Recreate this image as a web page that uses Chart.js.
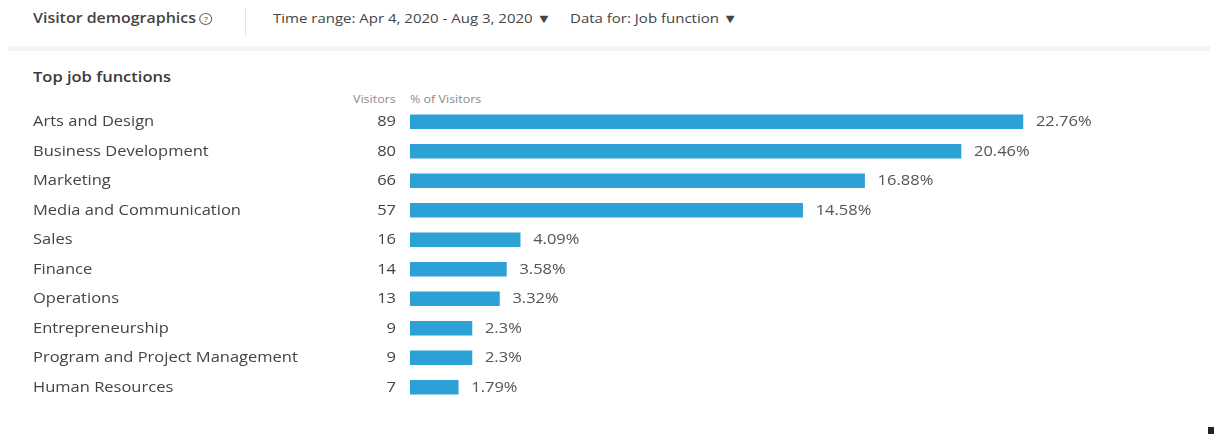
<!DOCTYPE html>
<html>
<head>
<meta charset="utf-8">
<script src="https://cdn.jsdelivr.net/npm/chart.js@4.4.0/dist/chart.umd.min.js"></script>
<style>
  html, body { margin: 0; padding: 0; background: #fff; width: 1216px; height: 436px; overflow: hidden; }
  body { position: relative; font-family: "Open Sans", sans-serif; color: #3c3c3c; }
  .abs { position: absolute; white-space: nowrap; transform-origin: left center; }
  #title { left: 33px; top: 8px; font-size: 14.5px; font-weight: 600; color: #444; transform: scaleX(1.1); }
  #title .q { display: inline-block; width: 10px; height: 10px; border: 1px solid #666; border-radius: 50%;
              font-size: 8px; line-height: 10px; text-align: center; font-weight: 400; vertical-align: 1px; margin-left: 3px; }
  #sep { left: 245px; top: 8px; width: 1px; height: 28px; background: #e4e4e4; }
  #range { left: 273px; top: 10px; font-size: 12.5px; color: #444; transform: scaleX(1.2); }
  #datafor { left: 570px; top: 10px; font-size: 12.5px; color: #444; transform: scaleX(1.2); }
  #band { left: 8px; top: 46px; width: 1202px; height: 5px; background: #f4f4f4; }
  #sub { left: 33px; top: 66px; font-size: 15px; font-weight: 600; color: #3a3a3a; transform: scaleX(1.1); }
  #hVis { left: 353px; top: 92px; font-size: 10px; color: #8a8a8a; transform: scaleX(1.25); }
  #hPct { left: 410px; top: 92px; font-size: 10px; color: #8a8a8a; transform: scaleX(1.25); }
  #dot { left: 1208px; top: 427px; width: 6px; height: 7px; background: #222; }
  #wrap { position: absolute; left: 0; top: 107px; width: 1216px; height: 295px; }
</style>
</head>
<body>
<div class="abs" id="title">Visitor demographics<span class="q">?</span></div>
<div class="abs" id="sep"></div>
<div class="abs" id="range">Time range: Apr 4, 2020 - Aug 3, 2020 &#9660;</div>
<div class="abs" id="datafor">Data for: Job function &#9660;</div>
<div class="abs" id="band"></div>
<div class="abs" id="sub">Top job functions</div>
<div class="abs" id="hVis">Visitors</div>
<div class="abs" id="hPct">% of Visitors</div>
<div class="abs" id="dot"></div>
<div id="wrap"><canvas id="chart"></canvas></div>
<script>
// Data
const jobFunctions = [
    'Arts and Design', 'Business Development', 'Marketing', 'Media and Communication',
    'Sales', 'Finance', 'Operations', 'Entrepreneurship',
    'Program and Project Management', 'Human Resources'
];
const visitors = [89, 80, 66, 57, 16, 14, 13, 9, 9, 7];
const percentVisitors = [22.76, 20.46, 16.88, 14.58, 4.09, 3.58, 3.32, 2.3, 2.3, 1.79];

// text in the screenshot is a bit stretched horizontally
function stretchedText(ctx, text, x, y, align) {
    ctx.save();
    ctx.translate(x, y);
    ctx.scale(1.1, 1);
    ctx.textAlign = align;
    ctx.fillText(text, 0, 0);
    ctx.restore();
}

// Draw the row labels, visitor counts and percentages next to the bars
const rowLabels = {
    id: 'rowLabels',
    afterDatasetsDraw(chart) {
        const ctx = chart.ctx;
        const meta = chart.getDatasetMeta(0);
        ctx.save();
        ctx.textBaseline = 'middle';
        ctx.font = '15px "Open Sans", sans-serif';
        meta.data.forEach((bar, i) => {
            const y = bar.y;
            ctx.fillStyle = '#444';
            stretchedText(ctx, jobFunctions[i], 33, y, 'left');
            stretchedText(ctx, String(visitors[i]), 396, y, 'right');
            ctx.fillStyle = '#555';
            stretchedText(ctx, percentVisitors[i] + '%', bar.x + 13, y, 'left');
        });
        ctx.restore();
    }
};

const ctx = document.getElementById('chart').getContext('2d');
new Chart(ctx, {
    type: 'bar',
    data: {
        labels: jobFunctions,
        datasets: [{
            data: percentVisitors,
            backgroundColor: '#2ca1d5',
            barThickness: 14
        }]
    },
    options: {
        indexAxis: 'y',
        responsive: true,
        maintainAspectRatio: false,
        animation: false,
        layout: { padding: { left: 410, right: 0, top: 0, bottom: 0 } },
        plugins: {
            legend: { display: false },
            tooltip: { enabled: false }
        },
        scales: {
            x: { display: false, min: 0, max: 29.93 },
            y: { display: false }
        }
    },
    plugins: [rowLabels]
});
</script>
</body>
</html>
